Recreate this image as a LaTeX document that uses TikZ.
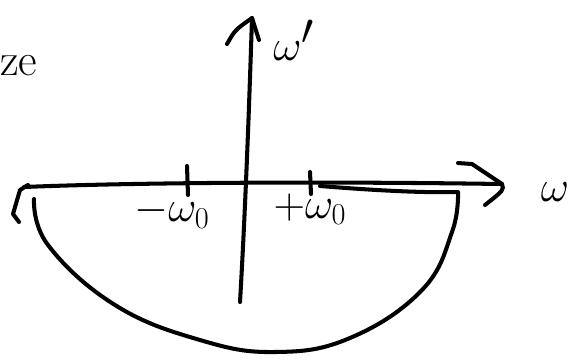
\documentclass[tikz,border=0pt]{standalone}
\usetikzlibrary{calc}
\begin{document}
\begin{tikzpicture}[x=0.02cm,y=-0.02cm,
  ink/.style={line width=2.3pt,line cap=round,line join=round,black},
  lbl/.style={inner sep=0pt,font=\fontsize{26}{28}\selectfont},
  biglbl/.style={inner sep=0pt,font=\fontsize{34}{36}\selectfont}]
\useasboundingbox (0,0) rectangle (587,363);
% named coordinates
\coordinate (hl) at (24,187);
\coordinate (hr) at (502,184);
\coordinate (vb) at (240,302);
\coordinate (vt) at (252,18);
% horizontal axis
\draw[ink] (hl) .. controls (120,183) and (300,181) .. (hr);
\draw[ink] (458,163) -- (472,164) -- (hr) .. controls (504,190) .. (485,205);
% left hook
\draw[ink] (28,185) -- (20,190) -- (13,214) -- (19,222);
% vertical axis
\draw[ink] (vb) .. controls (246,200) and (250,80) .. (vt);
\draw[ink] (227,44) .. controls (235,30) .. (vt) -- (259,40);
% ticks
\draw[ink] (187,166) -- (188,195);
\draw[ink] (310,172) -- (311,194);
% contour
\draw[ink] plot[smooth,tension=0.7] coordinates {(34,199) (48,245)
  (115,305) (200,340) (275,352) (350,338) (422,290) (452,232) (458,192)}
  .. controls (420,193) and (370,190) .. (320,186);
% labels
\node[biglbl] (wp) at (294,40) {$\omega'$};
\node[biglbl] (w) at (555,192) {$\omega$};
\node[lbl] (mw) at (172,212) {$-\omega_0$};
\node[lbl] (pw) at (310,209) {$+\omega_0$};
\node[lbl,anchor=west] (ze) at (0,66) {ze};
\end{tikzpicture}
\end{document}
